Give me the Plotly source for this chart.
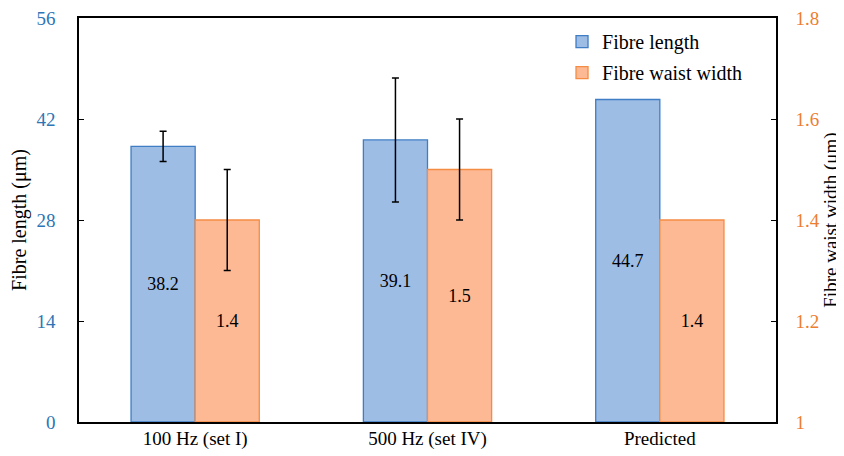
import plotly.graph_objects as go

categories = ["100 Hz (set I)", "500 Hz (set IV)", "Predicted"]
fibre_length = [38.2, 39.1, 44.7]
fibre_length_err = [2.1, 8.6]          # measured sets only
waist_width = [1.4, 1.5, 1.4]
waist_width_err = [0.1, 0.1]           # measured sets only
length_labels = ["38.2", "39.1", "44.7"]
width_labels = ["1.4", "1.5", "1.4"]
left_ticks = [0, 14, 28, 42, 56]
right_ticks = [1, 1.2, 1.4, 1.6, 1.8]
right_tick_text = ["1", "1.2", "1.4", "1.6", "1.8"]

serif = "Liberation Serif"
blue_text = "#2e75b6"
orange_text = "#ed7d31"
n_meas = len(fibre_length_err)

blue_marker = dict(color="#9ebde5", line=dict(color="#3f7dc4", width=1.3))
orange_marker = dict(color="#fdb894", line=dict(color="#f58c44", width=1.3))
txt_font = dict(family=serif, size=18, color="black")

fig = go.Figure()
# measured fibre length (with error bars)
fig.add_trace(go.Bar(
    x=categories[:n_meas], y=fibre_length[:n_meas], name="Fibre length",
    width=0.276, offset=-0.276, marker=blue_marker,
    error_y=dict(type="data", array=fibre_length_err, color="black", thickness=1.5, width=3.5, visible=True),
    text=length_labels[:n_meas], textposition="inside", insidetextanchor="middle",
    textfont=txt_font, legendgroup="a", yaxis="y",
))
# predicted fibre length (no error bar)
fig.add_trace(go.Bar(
    x=categories[n_meas:], y=fibre_length[n_meas:], name="Fibre length",
    width=0.276, offset=-0.276, marker=blue_marker,
    text=length_labels[n_meas:], textposition="inside", insidetextanchor="middle",
    textfont=txt_font, legendgroup="a", showlegend=False, yaxis="y",
))
# measured waist width (with error bars)
fig.add_trace(go.Bar(
    x=categories[:n_meas], y=[v - 1 for v in waist_width[:n_meas]], base=1, name="Fibre waist width",
    width=0.276, offset=0, marker=orange_marker,
    error_y=dict(type="data", array=waist_width_err, color="black", thickness=1.5, width=3.5, visible=True),
    text=width_labels[:n_meas], textposition="inside", insidetextanchor="middle",
    textfont=txt_font, legendgroup="b", yaxis="y2",
))
# predicted waist width
fig.add_trace(go.Bar(
    x=categories[n_meas:], y=[v - 1 for v in waist_width[n_meas:]], base=1, name="Fibre waist width",
    width=0.276, offset=0, marker=orange_marker,
    text=width_labels[n_meas:], textposition="inside", insidetextanchor="middle",
    textfont=txt_font, legendgroup="b", showlegend=False, yaxis="y2",
))

# the page body adds an 8px offset; size the figure so the plot area lands where the reference has it
fig.update_layout(
    width=836, height=448,
    margin=dict(l=71, r=68, t=10, b=34, autoexpand=False),
    paper_bgcolor="white", plot_bgcolor="white",
    font=dict(family=serif, size=18, color="black"),
    showlegend=True,
    legend=dict(x=0.693, y=0.99, xanchor="left", yanchor="top",
                font=dict(family=serif, size=20, color="black"),
                bgcolor="rgba(0,0,0,0)", tracegroupgap=2, traceorder="grouped",
                itemwidth=30),
    xaxis=dict(range=[-0.5, 2.5], type="category", categoryorder="array", categoryarray=categories,
               showline=True, linecolor="black", linewidth=1.5,
               mirror=True, ticks="", showgrid=False, automargin=False, ticklabelstandoff=-2,
               tickfont=dict(family=serif, size=19, color="black")),
    yaxis=dict(range=[0, 56], tickvals=left_ticks, showline=True, linecolor="black",
               linewidth=1.5, ticks="inside", ticklen=5, tickcolor="black",
               showgrid=False, zeroline=False, ticklabelstandoff=18, automargin=False,
               ticklabeloverflow="allow",
               tickfont=dict(family=serif, size=19, color=blue_text),
               title=dict(text="Fibre length (μm)", font=dict(family=serif, size=20, color="black"), standoff=4)),
    yaxis2=dict(range=[1, 1.8], tickvals=right_ticks, ticktext=right_tick_text,
                overlaying="y", side="right", showline=True, linecolor="black",
                linewidth=1.5, ticks="inside", ticklen=5, tickcolor="black",
                showgrid=False, zeroline=False, ticklabelstandoff=14, automargin=False,
                ticklabeloverflow="allow",
                tickfont=dict(family=serif, size=19, color=orange_text),
                title=dict(text="Fibre waist width (μm)", font=dict(family=serif, size=19, color="black"), standoff=4)),
)

fig.write_html("out.html")
